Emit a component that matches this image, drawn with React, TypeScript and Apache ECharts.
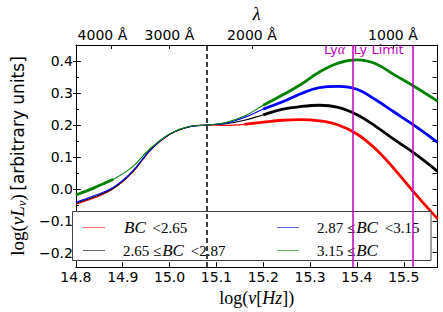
import React, { useEffect, useRef } from 'react';
import * as echarts from 'echarts';

// log(nu [Hz]) sample positions
const logNu = [14.80, 14.84, 14.88, 14.92, 14.96, 15.00, 15.04, 15.08, 15.12, 15.16, 15.20, 15.24, 15.28, 15.32, 15.36, 15.40, 15.44, 15.48, 15.52, 15.572];

// log(nu L_nu) values for each BC bin
const redVals = [-0.048, -0.028, 0.000, 0.050, 0.122, 0.170, 0.194, 0.200, 0.199, 0.202, 0.209, 0.215, 0.217, 0.213, 0.200, 0.172, 0.125, 0.062, -0.008, -0.094];
const blackVals = [-0.045, -0.025, 0.002, 0.052, 0.123, 0.171, 0.194, 0.200, 0.204, 0.215, 0.232, 0.249, 0.258, 0.262, 0.255, 0.232, 0.196, 0.154, 0.114, 0.055];
const blueVals = [-0.042, -0.021, 0.005, 0.054, 0.124, 0.171, 0.194, 0.200, 0.206, 0.224, 0.250, 0.272, 0.298, 0.317, 0.321, 0.312, 0.279, 0.240, 0.201, 0.146];
const greenVals = [-0.019, 0.004, 0.030, 0.068, 0.128, 0.172, 0.195, 0.200, 0.208, 0.228, 0.262, 0.293, 0.327, 0.366, 0.394, 0.404, 0.392, 0.357, 0.323, 0.275];

const seriesNames = ['BC <2.65', '2.65 ≤BC <2.87', '2.87 ≤BC <3.15', '3.15 ≤BC'];
const seriesColors = ['#ff0000', '#000000', '#0000ff', '#008000'];
const seriesValues = [redVals, blackVals, blueVals, greenVals];
// ranges drawn with thick lines
const thickRanges = [
  [[15.16, 15.6]],
  [[15.2, 15.6]],
  [[15.19, 15.6]],
  [[14.8, 14.88], [15.2, 15.6]],
];

const xMin = 14.8;
const xMax = 15.572;
const yMin = -0.245;
const yMax = 0.451;
const xTicks = [14.8, 14.9, 15.0, 15.1, 15.2, 15.3, 15.4, 15.5];
const yMajor = [-0.2, -0.1, 0.0, 0.1, 0.2, 0.3, 0.4];
const yMinor = [-0.15, -0.05, 0.05, 0.15, 0.25, 0.35];

const C_ANG = 2.998e18; // speed of light in Angstrom/s
const lambdaTicks = [4000, 3000, 2000, 1000];
const lambdaLabels = ['4000 Å', '3000 Å', '2000 Å', '1000 Å'];
const dashedLambda = 2500;
const lineLambdas = [1216, 912];
const lineLabels = ['Ly{a|α}', 'Ly Limit'];

const toLogNu = (lam: number) => Math.log10(C_ANG / lam);
const lambdaTickVals = lambdaTicks.map(toLogNu);

const MAGENTA = '#bf00bf';
const SANS = 'DejaVu Sans';
const SERIF = 'Liberation Serif';

// thin horizontal bar centred in a 22x14 box (tiny corner specks fix the box)
const LEGEND_ICON =
  'path://M0,0L0.01,0L0,0.01Z M0,6.5L22,6.5L22,7.5L0,7.5Z M22,14L21.99,14L22,13.99Z';

function richName(name: string) {
  const [a, b] = name.split('BC');
  let s = '{sp| }';
  if (a) s += `{n|${a}}`;
  s += '{i|BC}';
  if (b) s += `{n|${b}}`;
  return s;
}

const legendRich = {
  sp: { width: 13, fontSize: 14 },
  n: { fontFamily: SERIF, fontSize: 15, color: '#000' },
  i: { fontFamily: SERIF, fontSize: 17, fontStyle: 'italic', color: '#000', padding: [0, 3, 0, 1] },
};

function fmtY(v: number) {
  if (Math.abs(v) < 1e-9) return '0.0';
  return v < 0 ? '\u2212' + (-v).toFixed(1) : v.toFixed(1);
}

function inRanges(x: number, ranges: number[][]) {
  return ranges.some(([a, b]) => x >= a - 1e-9 && x <= b + 1e-9);
}

export default function App() {
  const ref = useRef<HTMLDivElement>(null);
  useEffect(() => {
    if (!ref.current) return;
    const chart = echarts.init(ref.current, null, { renderer: 'svg' });

    const series: any[] = [];
    seriesValues.forEach((vals, i) => {
      series.push({
        name: seriesNames[i],
        type: 'line',
        data: logNu.map((x, j) => [x, vals[j]]),
        smooth: 0.4,
        symbol: 'none',
        silent: true,
        lineStyle: { color: seriesColors[i], width: 1.1 },
        itemStyle: { color: seriesColors[i] },
        z: 2,
      });
      series.push({
        name: '_thick' + i,
        type: 'line',
        data: logNu.map((x, j) => [x, inRanges(x, thickRanges[i]) ? vals[j] : null]),
        smooth: 0.4,
        symbol: 'none',
        silent: true,
        connectNulls: false,
        lineStyle: { color: seriesColors[i], width: 2.8 },
        itemStyle: { color: seriesColors[i] },
        z: 2,
      });
    });
    series.push({
      name: '_marks',
      type: 'line',
      data: [],
      silent: true,
      z: 3,
      markLine: {
        symbol: 'none',
        silent: true,
        animation: false,
        label: { show: false },
        data: [
          { xAxis: toLogNu(dashedLambda), lineStyle: { color: '#000', width: 1.5, type: [5, 3] } },
          ...lineLambdas.map((l) => ({ xAxis: toLogNu(l), lineStyle: { color: MAGENTA, width: 1.5, type: 'solid' } })),
        ],
      },
    });

    const legendCommon = {
      orient: 'vertical',
      itemWidth: 22,
      itemHeight: 14,
      itemGap: 6,
      padding: 0,
      top: 219,
      z: 5,
      selectedMode: false,
      icon: LEGEND_ICON,
      itemStyle: { opacity: 0.6, borderWidth: 0 },
      formatter: richName,
      textStyle: { rich: legendRich, color: '#000' },
    };

    const legendRect = {
      type: 'rect',
      z: 4,
      shape: { x: 72.5, y: 211.5, width: 358.5, height: 49 },
      style: { fill: '#fff', stroke: '#444', lineWidth: 1 },
    };

    const option: any = {
      animation: false,
      backgroundColor: '#fff',
      grid: { left: 65.5, right: 5.5, top: 37.3, bottom: 43.7 },
      legend: [
        { ...legendCommon, left: 83, data: [seriesNames[0], seriesNames[1]] },
        { ...legendCommon, left: 277, data: [seriesNames[2], seriesNames[3]] },
      ],
      xAxis: [
        {
          type: 'value',
          position: 'bottom',
          min: xMin,
          max: xMax,
          splitLine: { show: false },
          axisLine: { show: true, onZero: false, lineStyle: { color: '#000', width: 1 } },
          axisTick: { show: true, inside: true, length: 5, customValues: xTicks, lineStyle: { color: '#000' } },
          axisLabel: {
            customValues: xTicks,
            formatter: (v: number) => v.toFixed(1),
            fontFamily: SANS,
            fontSize: 14,
            color: '#000',
            margin: 3,
          },
          name: '{r|log(}{it|ν}{r|[}{it|Hz}{r|])}',
          nameLocation: 'middle',
          nameGap: 19,
          nameTextStyle: {
            color: '#000',
            rich: {
              r: { fontFamily: SERIF, fontSize: 18, color: '#000' },
              it: { fontFamily: SERIF, fontSize: 18, fontStyle: 'italic', color: '#000' },
            },
          },
        },
        {
          type: 'value',
          position: 'top',
          min: xMin,
          max: xMax,
          splitLine: { show: false },
          axisLine: { show: true, onZero: false, lineStyle: { color: '#000', width: 1 } },
          axisTick: { show: true, inside: true, length: 4, customValues: lambdaTickVals, lineStyle: { color: '#000' } },
          axisLabel: {
            customValues: lambdaTickVals,
            formatter: (v: number) => {
              let best = 0;
              lambdaTickVals.forEach((t, k) => {
                if (Math.abs(t - v) < Math.abs(lambdaTickVals[best] - v)) best = k;
              });
              return best === 0 ? `{p|${lambdaLabels[best]}}` : `{q|${lambdaLabels[best]}}`;
            },
            fontFamily: SANS,
            fontSize: 14,
            color: '#000',
            margin: 3,
            rich: {
              p: { fontFamily: SANS, fontSize: 14, color: '#000', padding: [0, 17, 0, 0] },
              q: { fontFamily: SANS, fontSize: 14, color: '#000' },
            },
          },
          name: 'λ',
          nameLocation: 'middle',
          nameGap: 17,
          nameTextStyle: { fontFamily: SERIF, fontStyle: 'italic', fontSize: 18, color: '#000' },
        },
      ],
      yAxis: [
        {
          type: 'value',
          position: 'left',
          min: yMin,
          max: yMax,
          splitLine: { show: false },
          axisLine: { show: true, onZero: false, lineStyle: { color: '#000', width: 1 } },
          axisTick: { show: true, inside: false, length: 3, customValues: yMajor, lineStyle: { color: '#000' } },
          axisLabel: {
            customValues: yMajor,
            formatter: fmtY,
            fontFamily: SANS,
            fontSize: 14,
            color: '#000',
            margin: 3,
          },
          name: '{r|log(}{it|νL}{sub|ν}{r|)} {s|[arbitrary units]}',
          nameLocation: 'middle',
          nameGap: 42,
          nameTextStyle: {
            color: '#000',
            rich: {
              r: { fontFamily: SERIF, fontSize: 19, color: '#000' },
              it: { fontFamily: SERIF, fontSize: 19, fontStyle: 'italic', color: '#000' },
              sub: { fontFamily: SERIF, fontSize: 13, fontStyle: 'italic', color: '#000', padding: [8, 0, 0, 0] },
              s: { fontFamily: SANS, fontSize: 17, color: '#000' },
            },
          },
        },
        {
          type: 'value',
          position: 'left',
          min: yMin,
          max: yMax,
          splitLine: { show: false },
          axisLine: { show: false },
          axisTick: { show: true, inside: true, length: 5, customValues: yMajor, lineStyle: { color: '#000' } },
          axisLabel: { show: false },
        },
        {
          type: 'value',
          position: 'left',
          min: yMin,
          max: yMax,
          splitLine: { show: false },
          axisLine: { show: false },
          axisTick: { show: true, inside: true, length: 3, customValues: yMinor, lineStyle: { color: '#000' } },
          axisLabel: { show: false },
        },
        {
          type: 'value',
          position: 'right',
          min: yMin,
          max: yMax,
          splitLine: { show: false },
          axisLine: { show: true, onZero: false, lineStyle: { color: '#000', width: 1 } },
          axisTick: { show: true, inside: true, length: 5, customValues: [...yMajor, ...yMinor], lineStyle: { color: '#000' } },
          axisLabel: { show: false },
        },
      ],
      graphic: { elements: [legendRect] },
      series,
    };

    chart.setOption(option);

    const topPx = chart.convertToPixel({ yAxisIndex: 0 }, yMax) as number;
    const texts = lineLambdas.map((l, k) => {
      const xp = chart.convertToPixel({ xAxisIndex: 0 }, toLogNu(l)) as number;
      return {
        type: 'text',
        z: 6,
        x: xp - 8,
        y: topPx + 4.5,
        style: {
          text: lineLabels[k],
          fill: MAGENTA,
          fontFamily: SANS,
          fontSize: 13,
          align: 'right',
          verticalAlign: 'middle',
          rich: {
            a: { fontFamily: SERIF, fontStyle: 'italic', fontSize: 14, fill: MAGENTA, color: MAGENTA },
          },
        },
      };
    });
    chart.setOption({ graphic: { elements: [legendRect, ...texts] } });

    return () => chart.dispose();
  }, []);
  return (
    <div
      ref={ref}
      style={{ position: 'fixed', left: 0, top: 0, width: 443, height: 312, background: '#fff' }}
    />
  );
}
